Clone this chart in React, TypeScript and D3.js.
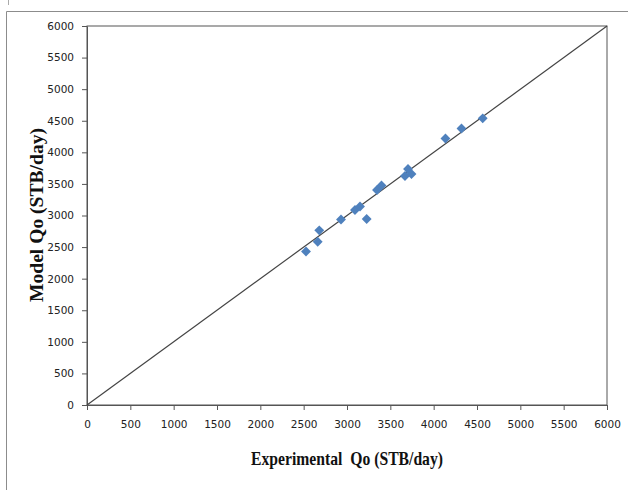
import React, { useEffect, useRef } from 'react';
import * as d3 from 'd3';

// experimental vs model oil rate (STB/day)
const experimentalQo = [2527, 2662, 2680, 2931, 3092, 3150, 3227, 3346, 3398, 3669, 3704, 3744, 4136, 4321, 4566];
const modelQo = [2430, 2585, 2765, 2937, 3087, 3142, 2944, 3404, 3475, 3625, 3736, 3657, 4219, 4377, 4538];
const tickValues = [0, 500, 1000, 1500, 2000, 2500, 3000, 3500, 4000, 4500, 5000, 5500, 6000];
const unitLine = [0, 6000];

const App = () => {
  const ref = useRef<SVGSVGElement>(null);

  useEffect(() => {
    const width = 628;
    const height = 490;
    const margin = { top: 26, right: 21, bottom: 85, left: 87 };
    const innerW = width - margin.left - margin.right;
    const innerH = height - margin.top - margin.bottom;

    const root = d3.select(ref.current);
    root.selectAll('*').remove();

    // outer frame (left and top edges only are visible)
    root.append('path')
      .attr('d', `M6.5,${height} V11.5 H${width}`)
      .attr('fill', 'none')
      .attr('stroke', '#8c8c8c')
      .attr('stroke-width', 1);
    root.append('line')
      .attr('x1', 8.5).attr('x2', 8.5).attr('y1', 0).attr('y2', 5)
      .attr('stroke', '#aaa');

    const svg = root.append('g')
      .attr('transform', `translate(${margin.left},${margin.top})`);

    const x = d3.scaleLinear().domain([0, 6000]).range([0, innerW]);
    const y = d3.scaleLinear().domain([0, 6000]).range([innerH, 0]);

    // plot box
    svg.append('rect')
      .attr('x', 0).attr('y', 0)
      .attr('width', innerW).attr('height', innerH)
      .attr('fill', 'none')
      .attr('stroke', '#555')
      .attr('stroke-width', 1);

    // x axis
    const xAxis = svg.append('g')
      .attr('transform', `translate(0,${innerH})`)
      .call(d3.axisBottom(x).tickValues(tickValues).tickSize(5).tickSizeOuter(0).tickPadding(11).tickFormat(d3.format('d')));
    // y axis
    const yAxis = svg.append('g')
      .call(d3.axisLeft(y).tickValues(tickValues).tickSize(5).tickSizeOuter(0).tickPadding(8).tickFormat(d3.format('d')));

    [xAxis, yAxis].forEach(ax => {
      ax.select('.domain').attr('stroke', '#555');
      ax.selectAll('line').attr('stroke', '#555');
      ax.selectAll('text')
        .attr('fill', '#222')
        .style('font-family', '"DejaVu Sans", Verdana, sans-serif')
        .style('font-size', '10.5px');
    });

    // 1:1 line
    svg.append('line')
      .attr('x1', x(unitLine[0])).attr('y1', y(unitLine[0]))
      .attr('x2', x(unitLine[1])).attr('y2', y(unitLine[1]))
      .attr('stroke', '#444')
      .attr('stroke-width', 1.2);

    // points
    svg.selectAll('.pt')
      .data(experimentalQo)
      .enter().append('path')
      .attr('class', 'pt')
      .attr('transform', (d, i) => `translate(${x(d)},${y(modelQo[i])})`)
      .attr('d', d3.symbol().type(d3.symbolDiamond2).size(62)())
      .attr('fill', '#4f81bd');

    // axis titles
    svg.append('text')
      .attr('x', 164)
      .attr('y', 439)
      .attr('textLength', 192)
      .attr('lengthAdjust', 'spacingAndGlyphs')
      .attr('xml:space', 'preserve')
      .style('white-space', 'pre')
      .style('font-family', '"Liberation Serif", "Times New Roman", serif')
      .style('font-weight', 'bold')
      .style('font-size', '19.5px')
      .attr('fill', '#111')
      .text('Experimental  Qo (STB/day)');

    svg.append('text')
      .attr('transform', `translate(${43 - margin.left},${302 - margin.top}) rotate(-90)`)
      .attr('textLength', 174)
      .attr('lengthAdjust', 'spacingAndGlyphs')
      .style('font-family', '"Liberation Serif", "Times New Roman", serif')
      .style('font-weight', 'bold')
      .style('font-size', '19px')
      .attr('fill', '#111')
      .text('Model Qo (STB/day)');
  }, []);

  return (
    <svg
      ref={ref}
      width={628}
      height={490}
      style={{ position: 'absolute', left: 0, top: 0, background: '#fff' }}
    />
  );
};

export default App;
